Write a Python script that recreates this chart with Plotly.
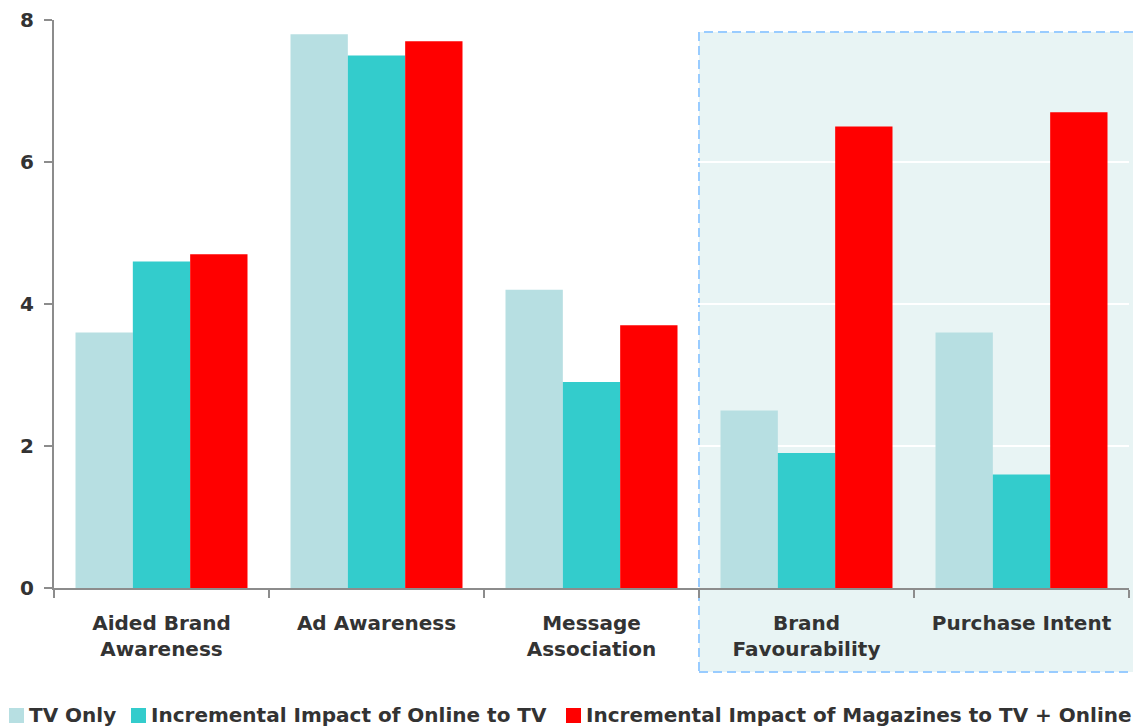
import plotly.graph_objects as go

categories = ["Aided Brand<br>Awareness", "Ad Awareness", "Message<br>Association",
              "Brand<br>Favourability", "Purchase Intent"]
series_names = ["TV Only", "Incremental Impact of Online to TV",
                "Incremental Impact of Magazines to TV + Online"]
tv_only = [3.6, 7.8, 4.2, 2.5, 3.6]
online = [4.6, 7.5, 2.9, 1.9, 1.6]
magazines = [4.7, 7.7, 3.7, 6.5, 6.7]
y_ticks = [0, 2, 4, 6, 8]

colors = ["#B7DFE2", "#33CCCC", "#FF0000"]
font = "DejaVu Sans, Arial, sans-serif"
text_color = "#333333"

# plot area in page pixels (page body adds an 8px offset to the figure)
PL, PR, PT, PB = 54, 1129, 20, 588
W, H = PR - PL, PB - PT


def px_x(px):
    return (px - PL) / W


def px_y(py):
    return (PB - py) / H


fig = go.Figure()
for name, vals, col in zip(series_names, [tv_only, online, magazines], colors):
    fig.add_trace(go.Bar(x=categories, y=vals, name=name, marker_color=col,
                         marker_line_width=0, showlegend=False))

# highlighted region behind the last two categories
fig.add_shape(type="rect", xref="paper", yref="paper",
              x0=0.6, x1=px_x(1142), y0=px_y(672), y1=px_y(32),
              fillcolor="#E8F4F4", layer="below",
              line=dict(color="#99CCFF", width=2, dash="9px,5px"))

# legend drawn as swatches + text so spacing follows the original
legend_x = [9, 131, 566]
for name, col, px in zip(series_names, colors, legend_x):
    fig.add_shape(type="rect", xref="paper", yref="paper",
                  x0=px_x(px), x1=px_x(px + 15), y0=px_y(723), y1=px_y(708),
                  fillcolor=col, line_width=0)
    fig.add_annotation(x=px_x(px + 18), y=px_y(715), xref="paper", yref="paper",
                       text="<b>" + name + "</b>", showarrow=False,
                       xanchor="left", yanchor="middle",
                       font=dict(family=font, size=20, color=text_color))

fig.update_layout(
    width=1141, height=728,
    margin=dict(l=PL - 8, r=1141 + 8 - PR, t=PT - 8, b=728 + 8 - PB),
    paper_bgcolor="white", plot_bgcolor="rgba(0,0,0,0)",
    barmode="group", bargap=0.2, bargroupgap=0,
    font=dict(family=font, size=20, color=text_color),
)
fig.update_xaxes(
    showline=True, linecolor="#8C8C8C", linewidth=2,
    ticks="outside", ticklen=8, tickcolor="#8C8C8C", tickwidth=2,
    tickson="boundaries", showgrid=False, automargin=False,
    tickvals=categories, ticktext=["<b>" + c + "</b>" for c in categories],
    tickfont=dict(family=font, size=20, color=text_color),
    ticklabelstandoff=16,
)
fig.update_yaxes(
    range=[0, 8], tickvals=y_ticks,
    ticktext=["<b>%d</b>" % v for v in y_ticks],
    showline=True, linecolor="#8C8C8C", linewidth=2,
    ticks="outside", ticklen=8, tickcolor="#8C8C8C", tickwidth=2,
    showgrid=True, gridcolor="white", gridwidth=2, zeroline=False,
    automargin=False, ticklabeloverflow="allow",
    tickfont=dict(family=font, size=20, color=text_color),
    ticklabelstandoff=6,
)

fig.write_html("out.html")
